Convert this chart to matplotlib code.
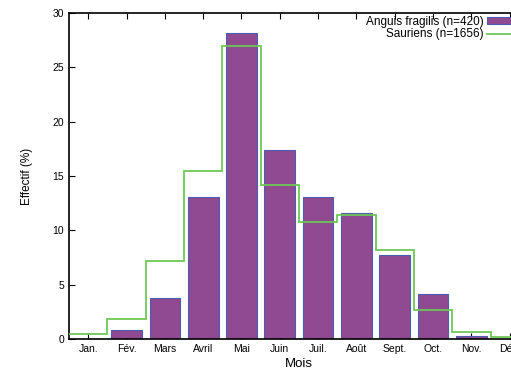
import matplotlib.pyplot as plt
import numpy as np

plt.rcParams['font.family'] = ['Liberation Sans', 'DejaVu Sans']

mois = ["Jan.", "Fév.", "Mars", "Avril", "Mai", "Juin", "Juil.", "Août",
        "Sept.", "Oct.", "Nov.", "Déc."]
# percentages
anguis = [0.0, 0.8, 3.8, 13.1, 28.2, 17.4, 13.1, 11.6, 7.7, 4.1, 0.25, 0.0]
sauriens = [0.5, 1.8, 7.2, 15.5, 27.0, 14.2, 10.8, 11.4, 8.2, 2.7, 0.6, 0.2]

fig = plt.figure(figsize=(5.11, 3.71), dpi=100)
# the original plot is wider than the image, so the axes run past the right edge
ax = fig.add_axes([69 / 511, 1 - 339 / 371, 460 / 511, 326 / 371])

x = np.arange(1, len(mois) + 1)
bars = ax.bar(x, anguis, width=0.8, color="#8f4a91", edgecolor="#4a5db0",
              linewidth=0.8, label="Anguis fragilis (n=420)", zorder=2)
line = ax.stairs(sauriens, np.arange(0.5, len(mois) + 1), baseline=None,
                 color="#6cc857", linewidth=1.3, label="Sauriens (n=1656)",
                 zorder=3)

ax.set_xlim(0.5, 12.5)
ax.set_ylim(0, 30)
ax.set_xticks(x)
ax.set_xticklabels(mois, fontsize=7.5)
ax.set_yticks(np.arange(0, 31, 5))
ax.tick_params(axis="y", labelsize=7.5, direction="in", length=4)
ax.tick_params(axis="x", direction="in", length=4, top=True)
ax.set_xlabel("Mois", fontsize=9.5, labelpad=3)
ax.set_ylabel("Effectif (%)", fontsize=8.5, labelpad=14)
for s in ax.spines.values():
    s.set_linewidth(1.2)

ax.legend([bars, line], ["Anguis fragilis (n=420)", "Sauriens (n=1656)"],
          loc="upper right", bbox_to_anchor=(529 / 511, 1 - 16 / 371),
          bbox_transform=fig.transFigure, frameon=False, markerfirst=False,
          fontsize=8.5, handlelength=3.6, handleheight=0.5,
          handletextpad=0.25, labelspacing=0.0,
          borderaxespad=0, borderpad=0)

fig.savefig("out.png", dpi=100)
